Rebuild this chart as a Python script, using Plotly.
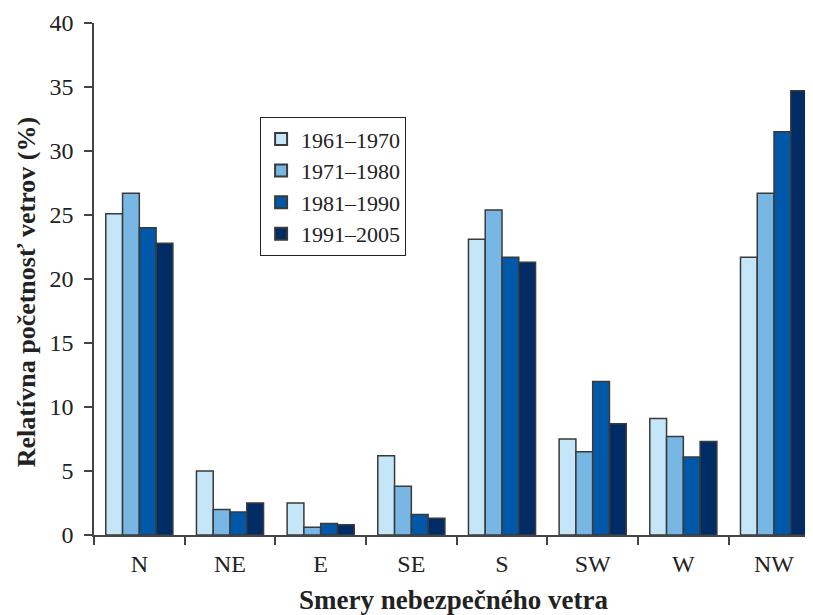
import plotly.graph_objects as go

categories = ["N", "NE", "E", "SE", "S", "SW", "W", "NW"]
series_names = ["1961–1970", "1971–1980", "1981–1990", "1991–2005"]
v1961 = [25.1, 5.0, 2.5, 6.2, 23.1, 7.5, 9.1, 21.7]
v1971 = [26.7, 2.0, 0.6, 3.8, 25.4, 6.5, 7.7, 26.7]
v1981 = [24.0, 1.8, 0.9, 1.6, 21.7, 12.0, 6.1, 31.5]
v1991 = [22.8, 2.5, 0.8, 1.3, 21.3, 8.7, 7.3, 34.7]
colors = ["#C5E5F8", "#78B6E4", "#0058A8", "#002C66"]

fig = go.Figure()
for name, vals, col in zip(series_names, [v1961, v1971, v1981, v1991], colors):
    fig.add_trace(go.Bar(
        x=categories, y=vals, name=name,
        marker=dict(color=col, line=dict(color="#3a3a3a", width=1.5)),
    ))

font = "Liberation Serif, Times New Roman, serif"
fig.update_layout(
    width=805, height=607,
    margin=dict(l=86, r=0, t=15, b=80),
    barmode="group", bargap=0.26, bargroupgap=0,
    plot_bgcolor="white", paper_bgcolor="white",
    font=dict(family=font, size=24, color="#222"),
    showlegend=True,
    legend=dict(
        x=0.231, y=0.816, xanchor="left", yanchor="top",
        bgcolor="white", bordercolor="#222", borderwidth=1,
        font=dict(family=font, size=22, color="#222"),
        itemsizing="constant", tracegroupgap=0,
    ),
    xaxis=dict(
        range=[-0.5, 7.43], showline=True, linecolor="#444", linewidth=1.5,
        ticks="outside", tickson="boundaries", ticklen=8, tickcolor="#444",
        tickwidth=1.5, showgrid=False, zeroline=False, ticklabelstandoff=6,
        title=dict(text="<b>Smery nebezpečného vetra</b>", font=dict(family=font, size=27), standoff=18),
    ),
    yaxis=dict(
        range=[0, 40], dtick=5, showline=True, linecolor="#444", linewidth=1.5,
        ticks="outside", ticklen=8, tickcolor="#444", tickwidth=1.5,
        showgrid=False, zeroline=False, ticklabelstandoff=6,
    ),
    annotations=[dict(
        text="<b>Relatívna početnosť vetrov (%)</b>",
        xref="paper", yref="paper", x=-0.094, y=0.475,
        xanchor="center", yanchor="middle", textangle=-90, showarrow=False,
        font=dict(family=font, size=26, color="#222"),
    )],
)

fig.write_html("out.html")
